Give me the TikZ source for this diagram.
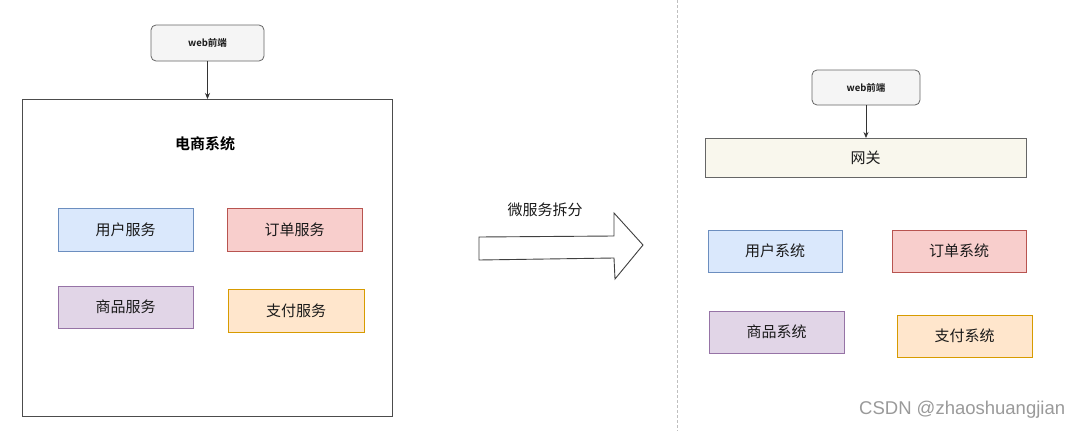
\documentclass[tikz,border=0pt]{standalone}
\usepackage{fontspec}
\setmainfont{Noto Sans CJK SC}[BoldFont={Noto Sans CJK SC Bold}]
\newfontfamily\wmfont{Liberation Sans}
\usetikzlibrary{arrows.meta}
\definecolor{gbfill}{HTML}{F5F5F5}
\definecolor{gbline}{HTML}{666666}
\definecolor{blfill}{HTML}{DAE8FC}
\definecolor{blline}{HTML}{6C8EBF}
\definecolor{rdfill}{HTML}{F8CECC}
\definecolor{rdline}{HTML}{B85450}
\definecolor{pufill}{HTML}{E1D5E7}
\definecolor{puline}{HTML}{9673A6}
\definecolor{orfill}{HTML}{FFE6CC}
\definecolor{orline}{HTML}{D79B00}
\definecolor{gwfill}{HTML}{F9F7ED}
\definecolor{txt}{HTML}{1A1A1A}
\definecolor{wm}{HTML}{9A9A9A}
\begin{document}
\begin{tikzpicture}[x=1pt,y=-1pt,
  box/.style={draw, rectangle, line width=0.8pt, inner sep=0pt, outer sep=0pt, text=txt, font=\fontsize{15}{18}\selectfont},
  webbox/.style={draw=gbline, fill=gbfill, rectangle, rounded corners=5pt, line width=0.8pt, inner sep=0pt, outer sep=0pt, text=txt, font=\fontsize{9.5}{11}\selectfont\bfseries},
  blue/.style={box, fill=blfill, draw=blline},
  red/.style={box, fill=rdfill, draw=rdline},
  purple/.style={box, fill=pufill, draw=puline},
  orange/.style={box, fill=orfill, draw=orline},
  conn/.style={draw=black!80, line width=0.8pt, -{Stealth[length=6pt,width=5pt]}}
]
\useasboundingbox (0,0) rectangle (1080,431);
\fill[white] (0,0) rectangle (1080,431);

% divider
\draw[draw=black!25, line width=0.7pt, dash pattern=on 3pt off 2pt] (677,0) -- (677,431);

% left side
\node[webbox, minimum width=113pt, minimum height=36pt] (webL) at (207.5,43) {web前端};
\node[draw=black!70, line width=0.9pt, rectangle, inner sep=0pt, outer sep=0pt, minimum width=370pt, minimum height=317pt] (sys) at (207,257.5) {};
\node[text=black, font=\fontsize{15}{18}\selectfont\bfseries] (sysT) at (205,144) {电商系统};
\draw[conn] (webL.south) -- (webL.south |- sys.north);

\node[blue, minimum width=135pt, minimum height=43pt] (user) at (125.5,229.5) {用户服务};
\node[red, minimum width=135pt, minimum height=43pt] (order) at (294.5,229.5) {订单服务};
\node[purple, minimum width=135pt, minimum height=42pt] (goods) at (125.5,307) {商品服务};
\node[orange, minimum width=136pt, minimum height=43pt] (pay) at (296,310.5) {支付服务};

% big arrow
\node[text=txt, font=\fontsize{15}{18}\selectfont] (split) at (545,210) {微服务拆分};
\coordinate (a1) at (479,237);
\coordinate (a2) at (614,236);
\coordinate (a3) at (614,213);
\coordinate (a4) at (643,245);
\coordinate (a5) at (615,279);
\coordinate (a6) at (614,258);
\coordinate (a7) at (479,260);
\draw[draw=black!75, fill=white, line width=0.9pt, line join=miter] (a1) -- (a2) -- (a3) -- (a4) -- (a5) -- (a6) -- (a7) -- cycle;

% right side
\node[webbox, minimum width=108pt, minimum height=35pt] (webR) at (866,87.5) {web前端};
\node[box, fill=gwfill, draw=gbline, minimum width=321pt, minimum height=39pt] (gw) at (865.5,157.5) {网关};
\draw[conn] (webR.south) -- (webR.south |- gw.north);

\node[blue, minimum width=134pt, minimum height=42pt] (userS) at (775,251) {用户系统};
\node[red, minimum width=134pt, minimum height=42pt] (orderS) at (959,251) {订单系统};
\node[purple, minimum width=135pt, minimum height=42pt] (goodsS) at (776.5,332) {商品系统};
\node[orange, minimum width=135pt, minimum height=42pt] (payS) at (964.5,336) {支付系统};

% watermark
\node[text=wm, font=\wmfont\fontsize{18.5}{21}\selectfont, anchor=west, inner sep=0pt] (wmk) at (859,410) {CSDN @zhaoshuangjian};
\end{tikzpicture}
\end{document}
